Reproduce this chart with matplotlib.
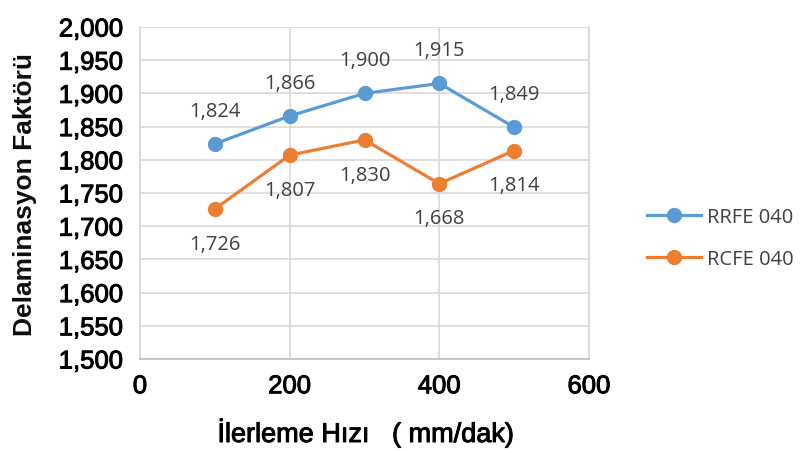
import matplotlib
matplotlib.use("Agg")
import matplotlib.pyplot as plt
import matplotlib.patheffects as pe

feed = [100, 200, 300, 400, 500]
rrfe = [1.824, 1.866, 1.900, 1.915, 1.849]
rcfe = [1.726, 1.807, 1.830, 1.764, 1.814]
rrfe_labels = ["1,824", "1,866", "1,900", "1,915", "1,849"]
rcfe_labels = ["1,726", "1,807", "1,830", "1,668", "1,814"]
yticks = [1.50, 1.55, 1.60, 1.65, 1.70, 1.75, 1.80, 1.85, 1.90, 1.95, 2.00]
ytick_labels = ["1,500", "1,550", "1,600", "1,650", "1,700", "1,750", "1,800",
                "1,850", "1,900", "1,950", "2,000"]
xticks = [0, 200, 400, 600]

blue = "#5B9BD5"
orange = "#ED7D31"

fig = plt.figure(figsize=(8.03, 4.52), dpi=100)
ax = fig.add_axes([140/803, 1-360/452, (589-140)/803, (360-28)/452])

ax.plot(feed, rrfe, color=blue, lw=2.3, marker="o", ms=10, label="RRFE 040", zorder=3)
ax.plot(feed, rcfe, color=orange, lw=2.3, marker="o", ms=10, label="RCFE 040", zorder=3)

lab_font = dict(family="Open Sans", fontsize=14.5, color="#404040", ha="center", va="center")
for x, y, t in zip(feed, rrfe, rrfe_labels):
    ax.annotate(t, (x, y), xytext=(0, 24), textcoords="offset points", **lab_font)
for x, y, t in zip(feed, rcfe, rcfe_labels):
    ax.annotate(t, (x, y), xytext=(0, -25), textcoords="offset points", **lab_font)

ax.set_xlim(0, 600)
ax.set_ylim(1.5, 2.0)
ax.set_xticks(xticks)
ax.set_yticks(yticks)
ax.set_yticklabels(ytick_labels)
ax.grid(True, color="#d9d9d9", lw=1.2)
ax.set_axisbelow(True)
ax.spines["top"].set_visible(False)
for s in ["left", "right"]:
    ax.spines[s].set_color("#d9d9d9")
    ax.spines[s].set_linewidth(1.2)
ax.spines["bottom"].set_color("#bfbfbf")
ax.spines["bottom"].set_linewidth(1.2)
ax.tick_params(length=0)
ax.tick_params(axis="y", pad=12)
ax.tick_params(axis="x", pad=11)
thick = [pe.withStroke(linewidth=0.7, foreground="#000000")]
for lbl in ax.get_yticklabels() + ax.get_xticklabels():
    lbl.set_family("Liberation Sans")
    lbl.set_fontsize(18.5)
    lbl.set_color("#000000")
    lbl.set_path_effects(thick)

fig.text(25/803, 1-194/452, "Delaminasyon Faktörü", rotation=90, ha="center", va="center",
         family="Liberation Sans", fontsize=19, fontweight="bold", color="#0d0d0d")
fig.text(366/803, 1-434/452, "İlerleme Hızı   ( mm/dak)", ha="center", va="center",
         family="Liberation Sans", fontsize=19.5, color="#000000", path_effects=thick)

leg = fig.legend(loc="center left", bbox_to_anchor=(647/803, 1-239/452), frameon=False,
                 prop=dict(family="Open Sans", size=14.5), labelspacing=1.05,
                 handlelength=2.7, handletextpad=0.3, borderpad=0, borderaxespad=0)
for t in leg.get_texts():
    t.set_color("#404040")

fig.savefig("out.png", dpi=100)
